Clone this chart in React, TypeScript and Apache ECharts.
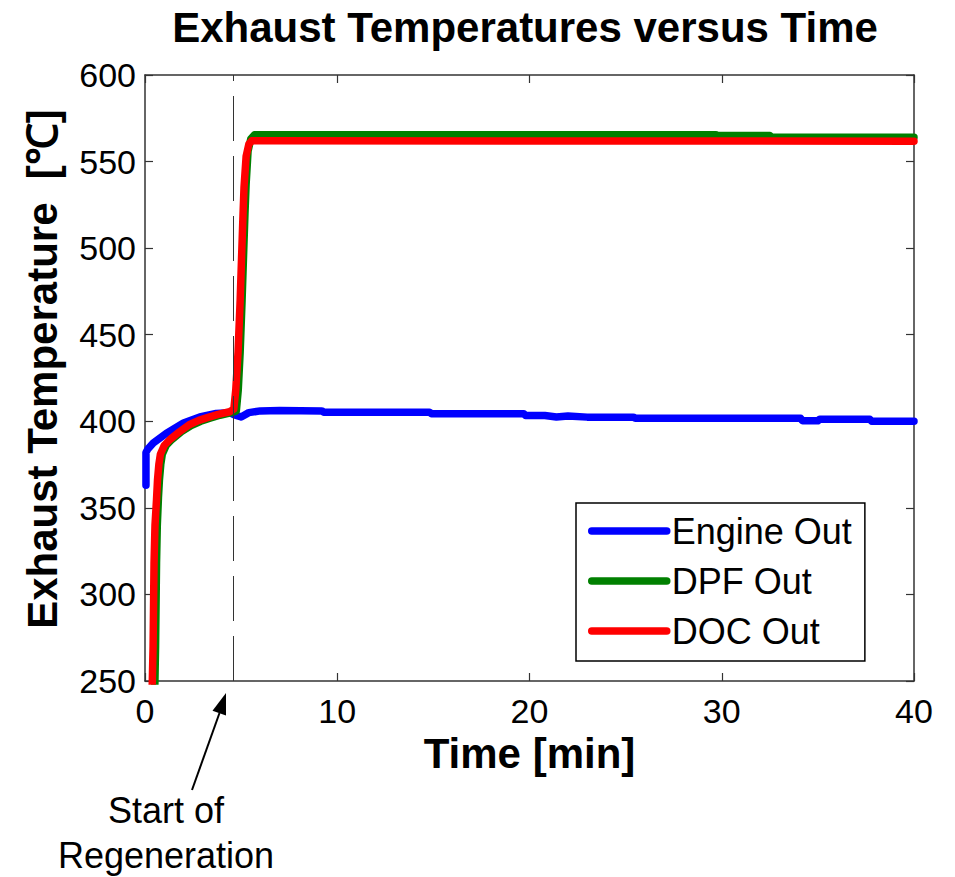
import React, { useEffect, useRef } from "react";
import * as echarts from "echarts";

// Engine-out temperature [min, °C]
const engineTime = [0.05, 0.05, 0.15, 0.43, 1.1, 2.0, 2.85, 3.7, 4.4, 4.7, 5.0, 5.4, 6.0, 7.0, 9.2, 9.3, 14.8, 14.9, 19.7, 19.8, 20.8, 21.4, 22.0, 23.0, 25.4, 25.5, 28.8, 34.1, 34.2, 35.0, 35.1, 37.7, 37.8, 40.0];
const engineTemp = [363, 382, 384, 387.5, 393, 399, 402.5, 404.5, 405, 403.5, 402.5, 405, 406, 406.2, 406, 405.2, 405.2, 404.4, 404.4, 403.3, 403.3, 402.5, 403, 402.4, 402.4, 401.8, 401.7, 401.7, 400.3, 400.3, 401.2, 401.2, 400, 400];

// DPF-out temperature [min, °C]
const dpfTime = [0.5, 0.55, 0.6, 0.64, 0.7, 0.75, 0.82, 0.9, 1.1, 1.4, 1.9, 2.4, 2.9, 3.3, 3.9, 4.5, 4.75, 4.85, 4.95, 5.05, 5.13, 5.2, 5.26, 5.36, 5.5, 5.7, 29.7, 29.8, 32.5, 32.6, 40.0];
const dpfTemp = [240, 270, 318, 340, 356, 366, 375, 381, 386, 389.5, 394, 397.5, 400, 401.5, 403.5, 405, 406, 418, 440, 470, 497, 520, 537, 556, 563, 565.5, 565.5, 565, 565, 564, 564];

// DOC-out temperature [min, °C]
const docTime = [0.36, 0.42, 0.47, 0.52, 0.6, 0.65, 0.72, 0.8, 1.0, 1.3, 1.8, 2.3, 2.8, 3.2, 3.8, 4.4, 4.62, 4.72, 4.84, 4.95, 5.03, 5.1, 5.15, 5.26, 5.4, 5.55, 6.0, 40.0];
const docTemp = [240, 270, 318, 340, 355, 366, 375, 381, 386, 389.5, 394, 398, 400.5, 402, 404, 405.5, 407, 418, 440, 470, 497, 520, 535, 553, 560, 562, 562, 561.8];

const seriesNames = ["Engine Out", "DPF Out", "DOC Out"];
const seriesColors = ["#0000ff", "#008000", "#ff0000"];

// Time at which regeneration starts [min]
const regenStart = 4.6;

const xTicks = { min: 0, max: 40, interval: 10 };
const yTicks = { min: 250, max: 600, interval: 50 };

const FONT = "Liberation Sans, Arial, Helvetica, sans-serif";
const AXIS_COLOR = "#333333";

const pairs = (t: number[], v: number[]) => t.map((x, i) => [x, v[i]]);

export default function App() {
  const ref = useRef<HTMLDivElement>(null);

  useEffect(() => {
    if (!ref.current) return;
    const chart = echarts.init(ref.current, undefined, { renderer: "svg" });

    const lineSeries = (name: string, color: string, data: number[][], z: number) => ({
      name,
      type: "line",
      data,
      symbol: "none",
      showSymbol: false,
      z,
      clip: true,
      lineStyle: { color, width: 7.5, cap: "round", join: "round" },
      itemStyle: { color },
    });

    const axisCommon = {
      axisLine: { show: true, onZero: false, lineStyle: { color: AXIS_COLOR, width: 1.5 } },
      axisTick: { show: true, inside: true, length: 8, lineStyle: { color: AXIS_COLOR, width: 1.2 } },
      splitLine: { show: false },
    };

    chart.setOption({
      animation: false,
      backgroundColor: "#ffffff",
      title: {
        text: "Exhaust Temperatures versus Time",
        left: 520,
        textAlign: "center",
        top: 1,
        textStyle: { fontFamily: FONT, fontSize: 42, fontWeight: "bold", color: "#000" },
      },
      grid: { left: 145, right: 41, top: 75, bottom: 196, containLabel: false },
      legend: {
        orient: "vertical",
        left: 576,
        top: 503,
        data: seriesNames,
        itemWidth: 75,
        itemHeight: 14,
        itemGap: 14,
        padding: [10, 13, 12, 12],
        borderColor: "#000",
        borderWidth: 1.5,
        backgroundColor: "#ffffff",
        itemStyle: { color: "rgba(0,0,0,0)", borderWidth: 0, opacity: 0 },
        lineStyle: { width: 7.5, cap: "round", opacity: 1 },
        textStyle: { fontFamily: FONT, fontSize: 36, color: "#000", padding: [0, 0, 0, 0] },
      },
      xAxis: [
        {
          type: "value",
          ...xTicks,
          position: "bottom",
          ...axisCommon,
          axisLabel: { fontFamily: FONT, fontSize: 34, color: "#000", margin: 13 },
          name: "Time [min]",
          nameLocation: "middle",
          nameGap: 40,
          nameTextStyle: { fontFamily: FONT, fontSize: 42, fontWeight: "bold", color: "#000" },
        },
        {
          type: "value",
          ...xTicks,
          position: "top",
          ...axisCommon,
          axisLabel: { show: false },
        },
      ],
      yAxis: [
        {
          type: "value",
          ...yTicks,
          position: "left",
          ...axisCommon,
          axisLabel: { fontFamily: FONT, fontSize: 34, color: "#000", margin: 9 },
          name: "Exhaust Temperature  [℃]",
          nameLocation: "middle",
          nameRotate: 90,
          nameGap: 82,
          nameTextStyle: {
            fontFamily: FONT,
            fontSize: 42,
            fontWeight: "bold",
            color: "#000",
            padding: [0, 0, 0, 18],
          },
        },
        {
          type: "value",
          ...yTicks,
          position: "right",
          ...axisCommon,
          axisLabel: { show: false },
        },
      ],
      series: [
        lineSeries(seriesNames[0], seriesColors[0], pairs(engineTime, engineTemp), 2),
        lineSeries(seriesNames[1], seriesColors[1], pairs(dpfTime, dpfTemp), 3),
        {
          ...lineSeries(seriesNames[2], seriesColors[2], pairs(docTime, docTemp), 4),
          markLine: {
            silent: true,
            symbol: "none",
            label: { show: false },
            lineStyle: { color: "#333", width: 1, type: [45, 15] },
            data: [{ xAxis: regenStart }],
          },
        },
      ],
      graphic: [
        {
          type: "line",
          shape: { x1: 192, y1: 790, x2: 219.5, y2: 713 },
          style: { stroke: "#000", lineWidth: 2 },
        },
        {
          type: "polygon",
          shape: { points: [[226, 693], [226, 715.5], [212.5, 710.8]] },
          style: { fill: "#000" },
        },
        {
          type: "text",
          x: 166,
          y: 810,
          style: { text: "Start of", font: `36px ${FONT}`, fill: "#000", align: "center", verticalAlign: "middle" },
        },
        {
          type: "text",
          x: 166,
          y: 855,
          style: { text: "Regeneration", font: `36px ${FONT}`, fill: "#000", align: "center", verticalAlign: "middle" },
        },
      ],
    });

    return () => chart.dispose();
  }, []);

  return (
    <div
      ref={ref}
      style={{ position: "absolute", left: 0, top: 0, width: 955, height: 877 }}
    />
  );
}
